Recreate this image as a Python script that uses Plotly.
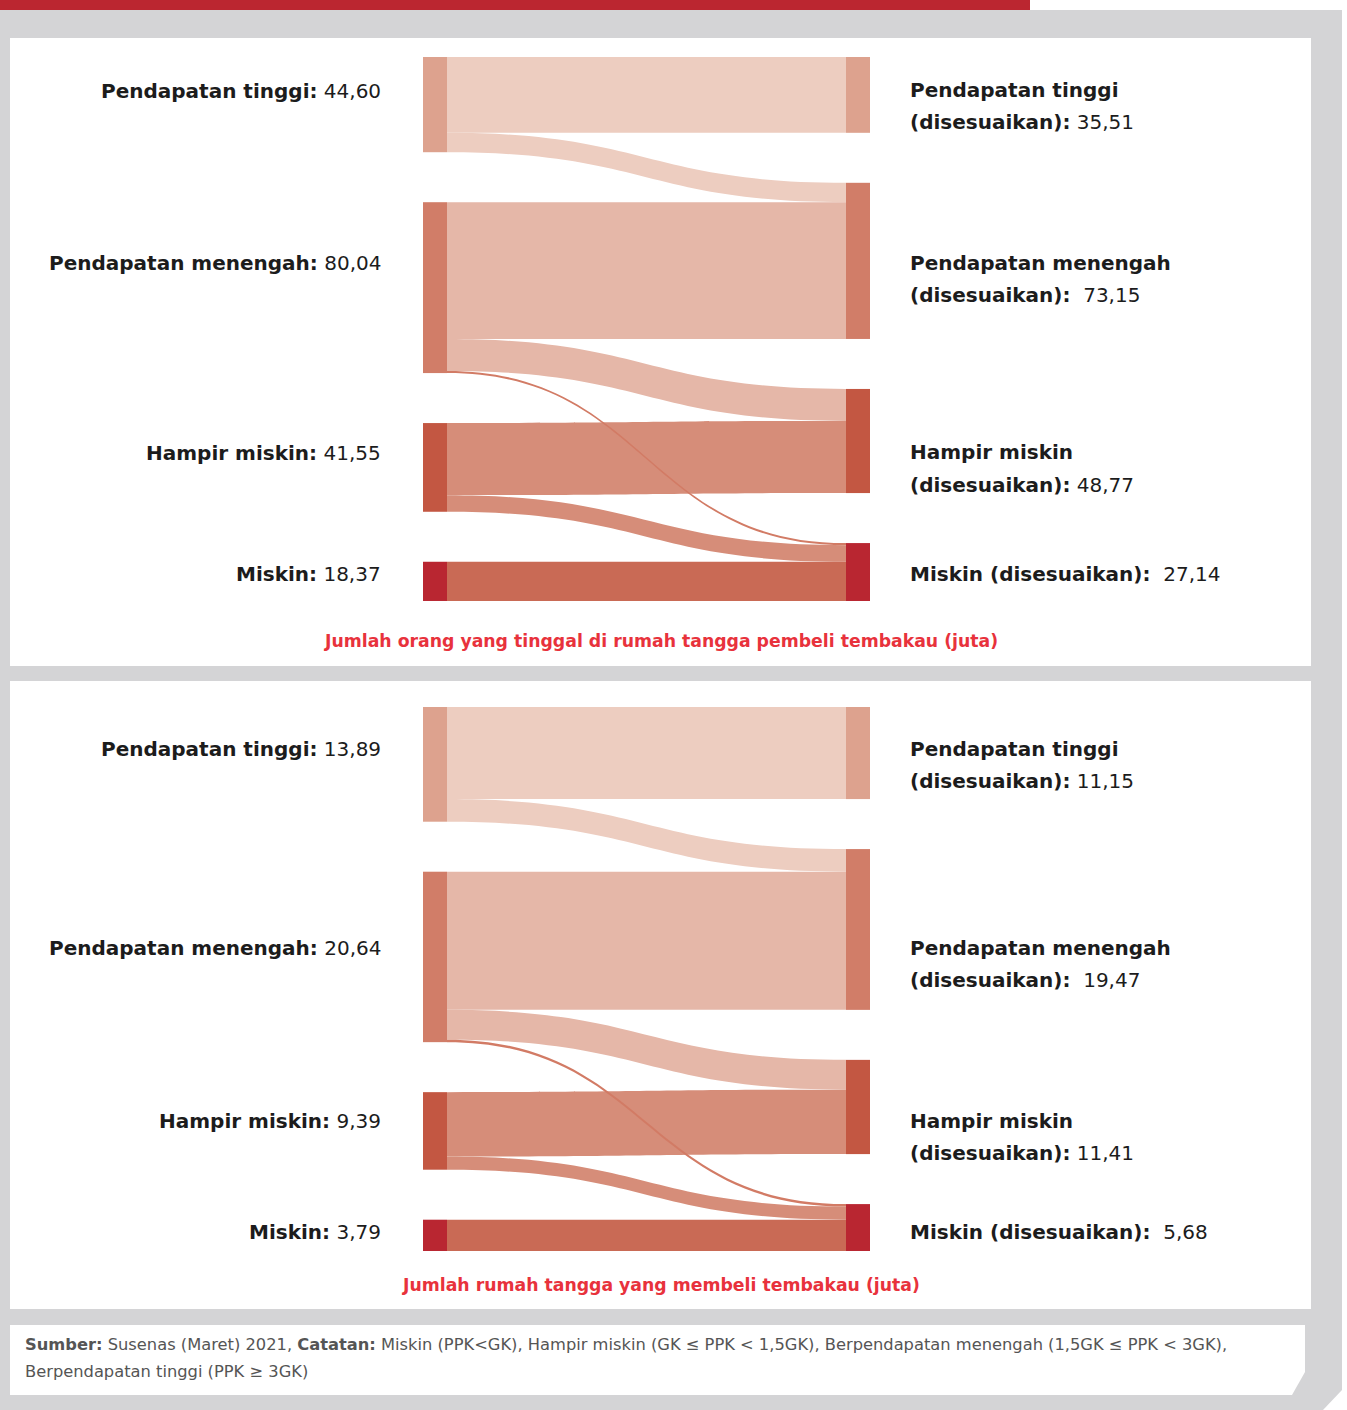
import plotly.graph_objects as go

W, H = 1347, 1410

# ---------------- data ----------------
src_names = ["Pendapatan tinggi", "Pendapatan menengah", "Hampir miskin", "Miskin"]
tgt_names = ["Pendapatan tinggi (disesuaikan)", "Pendapatan menengah (disesuaikan)",
             "Hampir miskin (disesuaikan)", "Miskin (disesuaikan)"]

# chart 1: people living in tobacco-buying households (million)
src_vals_1 = [44.60, 80.04, 41.55, 18.37]
tgt_vals_1 = [35.51, 73.15, 48.77, 27.14]
link_src_1 = [0, 0, 1, 1, 2, 2, 3, 1]
link_tgt_1 = [0, 1, 1, 2, 2, 3, 3, 3]
link_val_1 = [35.51, 9.09, 64.06, 14.98, 33.79, 7.76, 18.37, 1.00]

# chart 2: households buying tobacco (million)
src_vals_2 = [13.89, 20.64, 9.39, 3.79]
tgt_vals_2 = [11.15, 19.47, 11.41, 5.68]
link_src_2 = [0, 0, 1, 1, 2, 2, 3, 1]
link_tgt_2 = [0, 1, 1, 2, 2, 3, 3, 3]
link_val_2 = [11.15, 2.74, 16.73, 3.61, 7.80, 1.59, 3.79, 0.30]

src_labels_1 = ["44,60", "80,04", "41,55", "18,37"]
tgt_labels_1 = ["35,51", "73,15", "48,77", "27,14"]
src_labels_2 = ["13,89", "20,64", "9,39", "3,79"]
tgt_labels_2 = ["11,15", "19,47", "11,41", "5,68"]

caption_1 = "Jumlah orang yang tinggal di rumah tangga pembeli tembakau (juta)"
caption_2 = "Jumlah rumah tangga yang membeli tembakau (juta)"

# ---------------- styles ----------------
node_colors = ["#dda28e", "#d17d68", "#c35742", "#b92631"]
link_colors = ["#edcdc0", "#edcdc0", "#e5b7a8", "#e5b7a8",
               "#d68d79", "#d68d79", "#c96a55", "#d27b65"]
FONT = "DejaVu Sans"
DARK = "#1c1c1c"
RED = "#e8323c"
GRAY_BG = "#d4d4d6"

THICK = 24
PAD = 50
X0, X1 = 423, 870          # sankey domain x (px)


def node_positions(svals, tvals, top, bottom):
    h = bottom - top
    ky = (h - 3 * PAD) / max(sum(svals), sum(tvals))
    xs, ys = [], []
    for vals, xc in ((svals, THICK / 2), (tvals, (X1 - X0) - THICK / 2)):
        acc = 0.0
        for v in vals:
            c = acc + v * ky / 2
            xs.append(xc / (X1 - X0))
            ys.append(c / h)
            acc += v * ky + PAD
    return xs, ys


def make_sankey(svals, tvals, ls, lt, lv, top, bottom):
    xs, ys = node_positions(svals, tvals, top, bottom)
    return go.Sankey(
        arrangement="fixed",
        domain=dict(x=[X0 / W, X1 / W], y=[1 - bottom / H, 1 - top / H]),
        node=dict(
            label=[""] * 8,
            customdata=src_names + tgt_names,
            hovertemplate="%{customdata}: %{value}<extra></extra>",
            x=xs, y=ys,
            pad=PAD, thickness=THICK,
            color=node_colors + node_colors,
            line=dict(width=0),
        ),
        link=dict(
            source=ls,
            target=[t + 4 for t in lt],
            value=lv,
            color=link_colors,
            line=dict(width=0),
        ),
    )


fig = go.Figure()
fig.add_trace(make_sankey(src_vals_1, tgt_vals_1, link_src_1, link_tgt_1, link_val_1, 57, 601))
fig.add_trace(make_sankey(src_vals_2, tgt_vals_2, link_src_2, link_tgt_2, link_val_2, 707, 1251))

# ---------------- background shapes ----------------
def px(x):
    return x / W


def py(y):
    return 1 - y / H


shapes = []
shapes.append(dict(type="rect", xref="paper", yref="paper", x0=0, x1=px(1030), y0=py(10), y1=py(0),
                   fillcolor="#bb2630", line=dict(width=0), layer="below"))
path = "M {},{} L {},{} L {},{} L {},{} L {},{} Z".format(
    px(0), py(10), px(1342), py(10), px(1342), py(1390), px(1323), py(1410), px(0), py(1410))
shapes.append(dict(type="path", xref="paper", yref="paper", path=path,
                   fillcolor=GRAY_BG, line=dict(width=0), layer="below"))
for (a, b) in ((38, 666), (681, 1309)):
    shapes.append(dict(type="rect", xref="paper", yref="paper", x0=px(10), x1=px(1311),
                       y0=py(b), y1=py(a), fillcolor="white", line=dict(width=0), layer="below"))
path2 = "M {},{} L {},{} L {},{} L {},{} L {},{} Z".format(
    px(10), py(1325), px(1305), py(1325), px(1305), py(1372), px(1292), py(1395), px(10), py(1395))
shapes.append(dict(type="path", xref="paper", yref="paper", path=path2,
                   fillcolor="white", line=dict(width=0), layer="below"))

# ---------------- annotations ----------------
ann = []
LS = 20


def add_text(text, x, y, xanchor, size=LS, color=DARK, align="left"):
    ann.append(dict(text=text, x=px(x), y=py(y), xref="paper", yref="paper",
                    xanchor=xanchor, yanchor="middle", showarrow=False, align=align,
                    font=dict(family=FONT, size=size, color=color)))


left_y_1 = [91, 263, 453, 574]
left_y_2 = [749, 948, 1121, 1232]
for labs, ys in ((src_labels_1, left_y_1), (src_labels_2, left_y_2)):
    for n, l, y in zip(src_names, labs, ys):
        add_text("<b>{}:</b> {}".format(n, l), 383, y, "right", align="right")

right_lines = [("<b>Pendapatan tinggi</b>", "<b>(disesuaikan):</b> {}"),
               ("<b>Pendapatan menengah</b>", "<b>(disesuaikan):</b>  {}"),
               ("<b>Hampir miskin</b>", "<b>(disesuaikan):</b> {}"),
               (None, "<b>Miskin (disesuaikan):</b>  {}")]
right_y_1 = [(90, 122), (263, 295), (452, 485), (None, 574)]
right_y_2 = [(749, 781), (948, 980), (1121, 1153), (None, 1232)]
for labs, ys in ((tgt_labels_1, right_y_1), (tgt_labels_2, right_y_2)):
    for (l1, l2), l, (y1, y2) in zip(right_lines, labs, ys):
        if l1:
            add_text(l1, 908, y1, "left")
        add_text(l2.format(l), 908, y2, "left")

add_text("<b>{}</b>".format(caption_1), 661, 641, "center", size=17.3, color=RED)
add_text("<b>{}</b>".format(caption_2), 661, 1285, "center", size=17.3, color=RED)

footer_1 = ("<b>Sumber:</b> Susenas (Maret) 2021, <b>Catatan:</b> Miskin (PPK&lt;GK), "
            "Hampir miskin (GK ≤ PPK &lt; 1,5GK), Berpendapatan menengah (1,5GK ≤ PPK &lt; 3GK),")
footer_2 = "Berpendapatan tinggi (PPK ≥ 3GK)"
add_text(footer_1, 23, 1344, "left", size=16.3, color="#555555")
add_text(footer_2, 23, 1371, "left", size=16.3, color="#555555")

fig.update_layout(
    width=W, height=H,
    margin=dict(l=0, r=0, t=0, b=0),
    paper_bgcolor="white",
    plot_bgcolor="white",
    shapes=shapes,
    annotations=ann,
    font=dict(family=FONT),
)

fig.write_html("out.html")
